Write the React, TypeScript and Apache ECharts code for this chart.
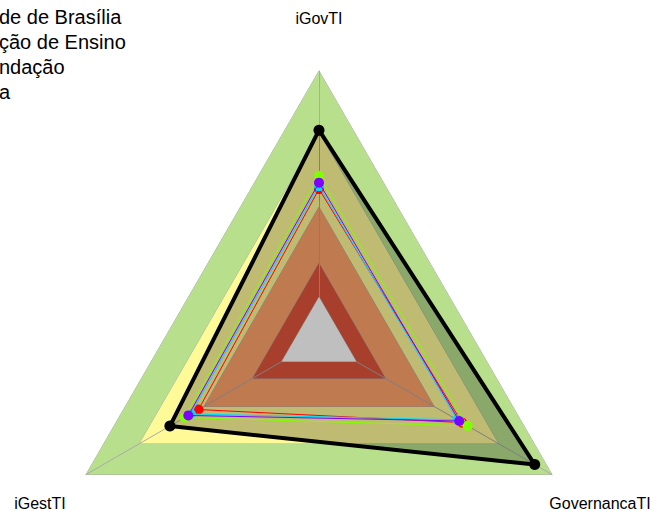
import React, { useEffect, useRef } from "react";
import * as echarts from "echarts";

const indicators = ["iGovTI", "iGestTI", "GovernancaTI"];
const bandLevels = [1.0, 0.77, 0.494, 0.286, 0.16];
const bandColors = ["#b8e08c", "#fffa98", "#ffa36b", "#e0553b", "#ffffff"];
const legendNames = ["de de Brasília", "ção de Ensino", "ndação", "a"];
const seriesColors = ["#ff0000", "#00d8ff", "#80ff00", "#8000ff"];
const seriesValues = [
  [0.561, 0.517, 0.614],
  [0.572, 0.55, 0.593],
  [0.61, 0.577, 0.638],
  [0.585, 0.561, 0.602],
];
const referenceName = "Referência";
const referenceValues = [0.78, 0.64, 0.926];

const FONT = "Liberation Sans, Arial, sans-serif";

export default function App() {
  const ref = useRef<HTMLDivElement>(null);
  useEffect(() => {
    const chart = echarts.init(ref.current!, undefined, { renderer: "svg" });
    const radarBase = {
      center: [319, 340],
      radius: 269,
      startAngle: 90,
      shape: "polygon",
      indicator: indicators.map((n) => ({ name: n, min: 0, max: 1 })),
      axisName: { show: false },
      splitNumber: 1,
      splitLine: { show: false },
      splitArea: { show: false },
    };
    const bandSeries = bandLevels.map((lv, i) => ({
      type: "radar",
      name: "band" + i,
      radarIndex: i === bandLevels.length - 1 ? 1 : 0,
      z: i === bandLevels.length - 1 ? 4 : 1,
      silent: true,
      symbol: "none",
      lineStyle: { color: "#aaaaaa", width: 1 },
      areaStyle: { color: bandColors[i], opacity: 1 },
      data: [{ value: indicators.map(() => lv), name: "band" + i }],
    }));
    const dataSeries = seriesValues.map((vals, i) => ({
      type: "radar",
      name: legendNames[i],
      radarIndex: 1,
      z: 6 + i,
      symbol: "circle",
      symbolSize: 10,
      itemStyle: { color: seriesColors[i] },
      lineStyle: { color: seriesColors[i], width: 1 },
      data: [{ value: vals, name: legendNames[i] }],
    }));
    chart.setOption({
      animation: false,
      legend: {
        orient: "vertical",
        left: -36,
        top: 2,
        itemGap: 5,
        itemWidth: 25,
        itemHeight: 14,
        data: legendNames,
        textStyle: { fontSize: 20, color: "#000", fontFamily: FONT },
      },
      radar: [
        { ...radarBase, z: 0, axisLine: { show: false } },
        {
          ...radarBase,
          z: 3,
          axisLine: { show: true, lineStyle: { color: "#aaaaaa", width: 1 } },
        },
      ],
      graphic: [
        { type: "text", x: 319, y: 18, style: { text: "iGovTI", fontSize: 16, fill: "#000", align: "center", verticalAlign: "middle", fontFamily: FONT } },
        { type: "text", x: 40, y: 503, style: { text: "iGestTI", fontSize: 16, fill: "#000", align: "center", verticalAlign: "middle", fontFamily: FONT } },
        { type: "text", x: 600, y: 503, style: { text: "GovernancaTI", fontSize: 16, fill: "#000", align: "center", verticalAlign: "middle", fontFamily: FONT } },
      ],
      series: [
        ...bandSeries,
        {
          type: "radar",
          name: referenceName,
          radarIndex: 1,
          z: 5,
          symbol: "circle",
          symbolSize: 11,
          itemStyle: { color: "#000" },
          lineStyle: { color: "#000", width: 4 },
          areaStyle: { color: "rgba(0,0,0,0.25)", opacity: 1 },
          data: [{ value: referenceValues, name: referenceName }],
        },
        ...dataSeries,
      ],
    });
    return () => chart.dispose();
  }, []);
  return (
    <div
      ref={ref}
      style={{ position: "fixed", left: 0, top: 0, width: 650, height: 511, background: "#fff" }}
    />
  );
}
